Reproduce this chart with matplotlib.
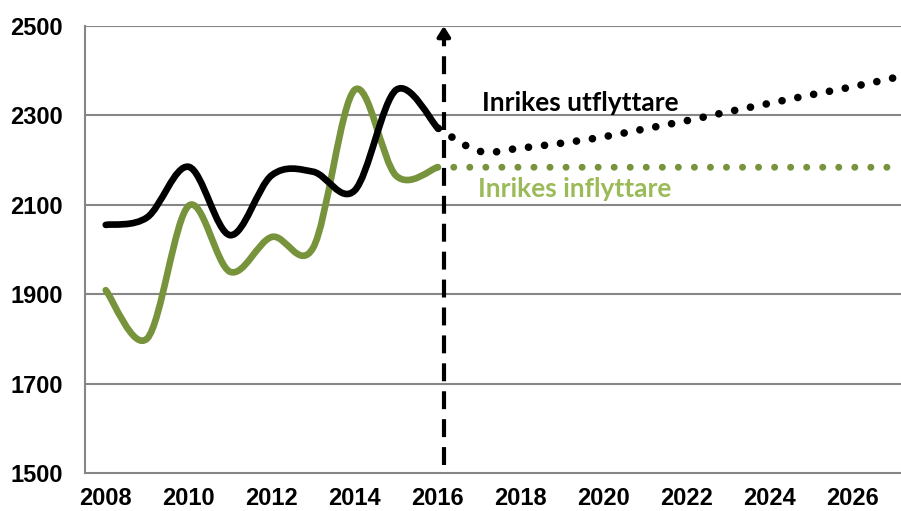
import matplotlib
matplotlib.use("Agg")
import matplotlib.pyplot as plt
from matplotlib.path import Path
from matplotlib.patches import PathPatch

# data
years = list(range(2008, 2017))
utflyttare = [2055, 2072, 2185, 2032, 2166, 2174, 2132, 2357, 2272]
inflyttare = [1909, 1801, 2098, 1950, 2028, 2004, 2357, 2165, 2184]

prog_years = list(range(2016, 2028))
utflyttare_prog = [2272, 2220, 2227, 2238, 2252, 2270, 2288, 2308, 2327, 2346, 2364, 2384]
inflyttare_prog = [2184] * 12

yticks = [1500, 1700, 1900, 2100, 2300, 2500]
xticks = list(range(2008, 2028, 2))

GREEN = "#77933C"
LIGHT_GREEN = "#9BBB59"
GRID = "#868686"


def smooth_path(xs, ys):
    # Catmull-Rom style smoothing like Excel's "smoothed line"
    pts = list(zip(xs, ys))
    verts = [pts[0]]
    codes = [Path.MOVETO]
    n = len(pts)
    for i in range(n - 1):
        p0 = pts[i - 1] if i > 0 else pts[i]
        p1 = pts[i]
        p2 = pts[i + 1]
        p3 = pts[i + 2] if i + 2 < n else pts[i + 1]
        c1 = (p1[0] + (p2[0] - p0[0]) / 6, p1[1] + (p2[1] - p0[1]) / 6)
        c2 = (p2[0] - (p3[0] - p1[0]) / 6, p2[1] - (p3[1] - p1[1]) / 6)
        verts += [c1, c2, p2]
        codes += [Path.CURVE4] * 3
    return Path(verts, codes)


fig = plt.figure(figsize=(9.01, 5.11), dpi=100)
ax = fig.add_axes([85 / 901, 38 / 511, 1 - 85 / 901, 447 / 511])

ax.set_xlim(2007.5, 2027.17)
ax.set_ylim(1500, 2500)

for v in yticks[1:]:
    ax.axhline(v, color=GRID, lw=1.5, zorder=1)

ax.add_patch(PathPatch(smooth_path(years, inflyttare), fill=False, color=GREEN,
                       lw=4.8, capstyle="round", joinstyle="round", zorder=3))
ax.add_patch(PathPatch(smooth_path(years, utflyttare), fill=False, color="black",
                       lw=4.8, capstyle="round", joinstyle="round", zorder=4))
ax.add_patch(PathPatch(smooth_path(prog_years, inflyttare_prog), fill=False, color=GREEN,
                       lw=5.0, linestyle=(2.3, (0.01, 2.3)), capstyle="round", zorder=3))
ax.add_patch(PathPatch(smooth_path(prog_years, utflyttare_prog), fill=False, color="black",
                       lw=5.5, linestyle=(2.0, (0.01, 2.1)), capstyle="round", zorder=4))

# dashed arrow at the forecast start
ax.plot([2016.15, 2016.15], [1518, 2472], color="black", lw=3,
        linestyle=(0, (4.3, 2.4)), zorder=5)
ax.annotate("", xy=(2016.15, 2500), xytext=(2016.15, 2472),
            arrowprops=dict(arrowstyle="-|>,head_length=0.6,head_width=0.38",
                            color="black", lw=3, shrinkA=0, shrinkB=0), zorder=5)

ax.text(2017.08, 2328, "Inrikes utflyttare", fontsize=19, fontweight="bold",
        family="Lato", color="black", va="center", ha="left")
ax.text(2016.98, 2135, "Inrikes inflyttare", fontsize=19, fontweight="bold",
        family="Lato", color=LIGHT_GREEN, va="center", ha="left")

ax.set_yticks(yticks)
ax.set_xticks(xticks)
ax.set_yticklabels([str(v) for v in yticks], fontsize=17, fontweight="bold",
                   family="Liberation Sans")
ax.set_xticklabels([str(v) for v in xticks], fontsize=17, fontweight="bold",
                   family="Liberation Sans")
ax.tick_params(length=0)
ax.tick_params(axis="y", pad=16)
ax.tick_params(axis="x", pad=10)

for s in ["top", "right"]:
    ax.spines[s].set_visible(False)
for s in ["left", "bottom"]:
    ax.spines[s].set_color(GRID)
    ax.spines[s].set_linewidth(1.5)

fig.savefig("out.png", dpi=100)
